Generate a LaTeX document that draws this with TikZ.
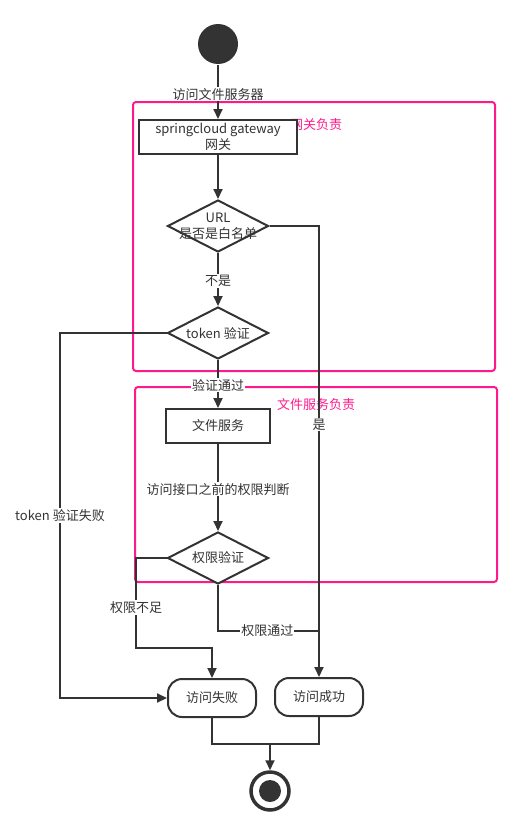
\documentclass[tikz,border=0pt]{standalone}
\usepackage{fontspec}
\setmainfont{Noto Sans CJK SC}
\usetikzlibrary{arrows.meta,shapes.geometric}
\definecolor{ink}{HTML}{333333}
\definecolor{zone}{HTML}{FF1A8C}

\begin{document}
\begin{tikzpicture}[x=1pt,y=-1pt,line width=2pt,
  every node/.style={font=\fontsize{13}{16}\selectfont,text=ink},
  flow/.style={draw=ink,-{Triangle[length=10pt,width=9pt]}},
  link/.style={draw=ink},
  tag/.style={fill=white,inner sep=1pt},
  act/.style={draw=ink,fill=white,minimum height=34pt,align=center,inner sep=1pt},
  ends/.style={draw=ink,fill=white,rounded corners=14pt,minimum width=88pt,minimum height=38pt},
  choice/.style={diamond,draw=ink,fill=white,minimum width=101pt,minimum height=52pt,inner sep=0pt},
  zonebox/.style={draw=zone,rounded corners=3pt},
  zonetag/.style={text=zone}]
\useasboundingbox (0,0) rectangle (522,835);

% Zones
\draw[zonebox] (133,102) rectangle (495,371);
\node[zonetag] (gwzone) at (316,125) {网关负责};
\draw[zonebox] (135,387) rectangle (497,582);
\node[zonetag] (fszone) at (316,405) {文件服务负责};

% Nodes
\node[circle,fill=ink,minimum size=40pt,inner sep=0pt] (start) at (218,44) {};
\node[act,minimum width=158pt] (gw) at (218,137) {springcloud gateway\\网关};
\node[choice,label={[align=center,font=\fontsize{13}{16}\selectfont]center:URL\\是否是白名单}] (url) at (218,226) {};
\node[choice,label={center:token 验证}] (tok) at (218,333) {};
\node[act,minimum width=104pt] (fs) at (218,426) {文件服务};
\node[choice,label={center:权限验证}] (perm) at (218,558) {};
\node[ends] (fail) at (212,698) {访问失败};
\node[ends] (ok) at (319,697) {访问成功};
\node[circle,draw=ink,line width=3.5pt,fill=white,minimum size=38pt,inner sep=0pt] (end) at (270,791) {};
\fill[ink] (end.center) circle (11pt);
\coordinate (join) at (319,631);
\coordinate (merge) at (270,744);

% Gateway
\draw[flow] (start) -- (gw) node[tag,pos=0.54] {访问文件服务器};
\draw[flow] (gw) -- (url);
\draw[flow] (url.east) -| (ok.north) node[tag,pos=0.72] {是};
\draw[flow] (url) -- (tok) node[tag,pos=0.53] {不是};
\draw[flow] (tok.west) -- (60,333) |- (fail.west) node[tag,pos=0.25] {token 验证失败};
\draw[flow] (tok) -- (fs) node[tag,pos=0.52] {验证通过};

% File service
\draw[flow] (fs) -- (perm) node[tag,pos=0.52] {访问接口之前的权限判断};
\draw[flow] (perm.west) -- (136,558) -- node[tag,pos=0.55] {权限不足} (136,648) -| (fail.north);
\draw[link] (perm.south) |- (join) node[tag,pos=0.745] {权限通过};

% End
\draw[link] (fail.south) |- (merge);
\draw[link] (ok.south) |- (merge);
\draw[flow] (merge) -- (end.north);
\end{tikzpicture}
\end{document}
